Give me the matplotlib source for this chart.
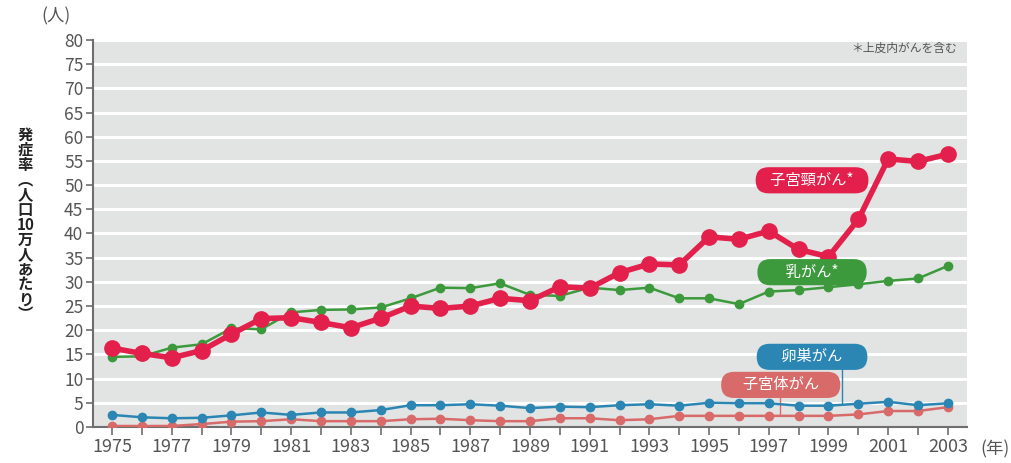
import numpy as np
import matplotlib.pyplot as plt

plt.rcParams['font.family'] = ['Noto Sans CJK JP', 'DejaVu Sans']

years = list(range(1975, 2004))
cervix = [16.3, 15.2, 14.3, 15.8, 19.2, 22.4, 22.6, 21.6, 20.5, 22.5,
          25.0, 24.5, 25.0, 26.6, 26.1, 29.0, 28.7, 31.9, 33.7, 33.5,
          39.3, 38.8, 40.5, 36.7, 35.2, 42.9, 55.4, 54.9, 56.4]
breast = [14.5, 14.6, 16.4, 17.1, 20.4, 20.2, 23.7, 24.2, 24.3, 24.7,
          26.6, 28.8, 28.7, 29.7, 27.3, 27.1, 28.8, 28.3, 28.8, 26.6,
          26.6, 25.4, 28.0, 28.3, 28.9, 29.5, 30.2, 30.7, 33.3]
ovary = [2.5, 2.0, 1.8, 1.9, 2.4, 3.0, 2.5, 3.0, 3.0, 3.5,
         4.5, 4.5, 4.7, 4.4, 3.9, 4.2, 4.1, 4.5, 4.7, 4.4,
         5.0, 4.9, 4.9, 4.4, 4.4, 4.8, 5.2, 4.5, 4.9]
uterus = [0.2, 0.2, 0.2, 0.6, 1.1, 1.2, 1.6, 1.2, 1.2, 1.2,
          1.6, 1.7, 1.4, 1.2, 1.2, 1.8, 1.8, 1.4, 1.6, 2.3,
          2.3, 2.3, 2.3, 2.3, 2.3, 2.6, 3.3, 3.3, 4.1]

red = '#e3204b'
green = '#3c9a3c'
blue = '#2b86b3'
pink = '#d86a6a'
tick_color = '#555555'

fig = plt.figure(figsize=(10.12, 4.63), dpi=100)
ax = fig.add_axes([0.0919, 0.0778, 0.8636, 0.8358])
ax.set_facecolor('#e1e4e3')

ax.set_xlim(1974.36, 2003.64)
ax.set_ylim(0, 80)
ax.set_yticks(np.arange(0, 81, 5))
ax.set_xticks(years, minor=True)
ax.set_xticks(years[::2])
ax.yaxis.grid(True, color='white', linewidth=2.2)
ax.set_axisbelow(True)

for side in ['top', 'right']:
    ax.spines[side].set_visible(False)
for side in ['left', 'bottom']:
    ax.spines[side].set_color('#6e6e6e')
    ax.spines[side].set_linewidth(1.5)

ax.tick_params(axis='y', colors='#6e6e6e', labelcolor=tick_color,
               labelsize=12.5, length=5, width=1.2, pad=2)
ax.tick_params(axis='x', which='both', colors='#6e6e6e', labelcolor=tick_color,
               labelsize=13, length=6, width=1.2, pad=2)

# Series
ax.plot(years, uterus, color=pink, lw=1.8, marker='o', ms=6, zorder=3)
ax.plot(years, ovary, color=blue, lw=1.8, marker='o', ms=6, zorder=3)
ax.plot(years, breast, color=green, lw=1.8, marker='o', ms=6, zorder=4)
ax.plot(years, cervix, color=red, lw=4, marker='o', ms=11, zorder=5)

# Leader lines for the two small series
ax.plot([1999.44, 1999.44], [5.0, 13.0], color=blue, lw=1, zorder=2)
ax.plot([1997.37, 1997.37], [2.4, 7.5], color=pink, lw=1, zorder=2)


def pill(x, y, text, color):
    ax.text(x, y, text, color='white', fontsize=11,
            ha='center', va='center', zorder=6,
            bbox=dict(boxstyle='round,pad=0.3,rounding_size=0.85',
                      fc=color, ec='none'))


pill(1998.45, 51.0, '   子宮頸がん*   ', red)
pill(1998.45, 32.0, '       乳がん*       ', green)
pill(1998.45, 14.5, '      卵巣がん      ', blue)
pill(1997.4, 8.7, '     子宮体がん     ', pink)

ax.text(2003.3, 78.3, '＊上皮内がんを含む', fontsize=8.5, color='#555555',
        ha='right', va='center')

fig.text(0.055, 0.965, '(人)', fontsize=12.5, color=tick_color,
         ha='center', va='center')
fig.text(0.983, 0.0285, '(年)', fontsize=12.5, color=tick_color,
         ha='center', va='center')

label = '発\n症\n率\n︵\n人\n口\n10\n万\n人\nあ\nた\nり\n︶'
fig.text(0.025, 0.515, label, fontsize=11, fontweight='bold', color='#222222',
         ha='center', va='center', linespacing=0.92)

fig.savefig('out.png', dpi=100)
